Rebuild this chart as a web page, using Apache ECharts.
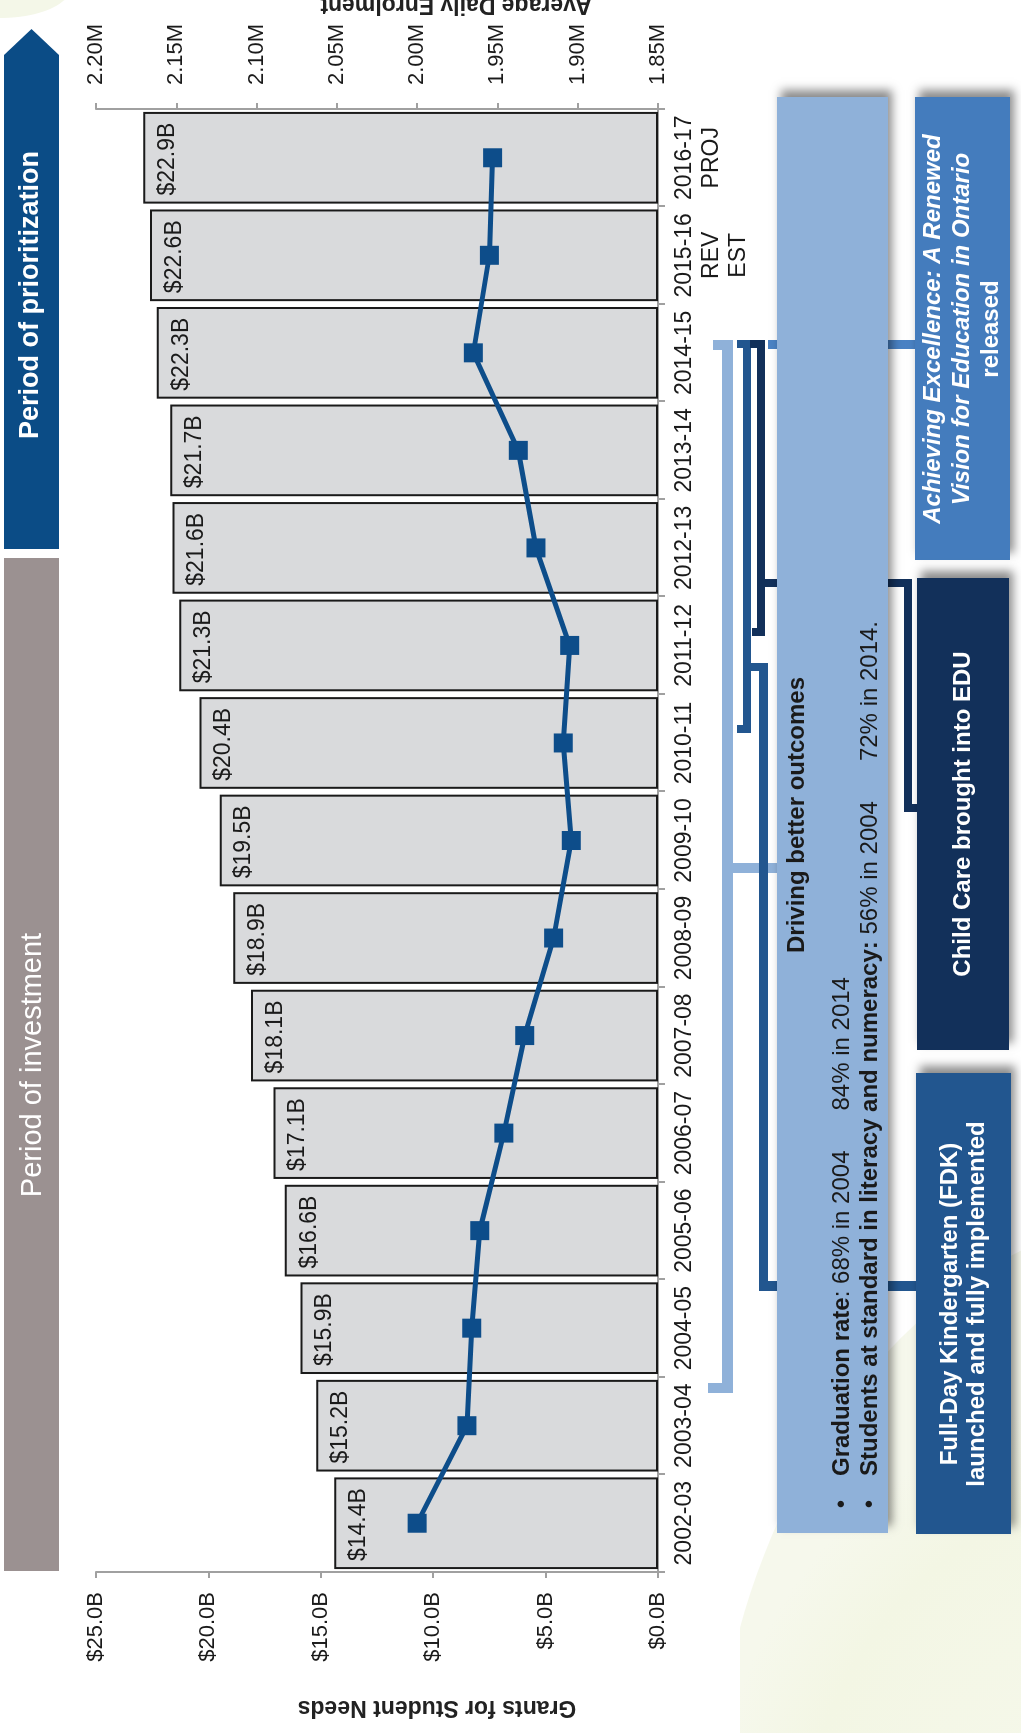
<!DOCTYPE html>
<html>
<head>
<meta charset="utf-8">
<script src="https://cdn.jsdelivr.net/npm/echarts@6/dist/echarts.min.js"></script>
<style>
  html, body { margin: 0; padding: 0; background: #fff; overflow: hidden; width: 1021px; height: 1733px; }
  /* the chart is laid out landscape and turned a quarter turn, like the printed page */
  #stage {
    position: absolute; left: 0; top: 0;
    width: 1733px; height: 1021px;
    transform-origin: 0 0;
    transform: translateY(1733px) rotate(-90deg);
  }
</style>
</head>
<body>
<div id="stage"></div>
<script>
// data
const years = ['2002-03', '2003-04', '2004-05', '2005-06', '2006-07', '2007-08', '2008-09', '2009-10',
  '2010-11', '2011-12', '2012-13', '2013-14', '2014-15', '2015-16', '2016-17'];
const yearNotes = ['', '', '', '', '', '', '', '', '', '', '', '', '', 'REV\nEST', 'PROJ'];
const gsnBillions = [14.4, 15.2, 15.9, 16.6, 17.1, 18.1, 18.9, 19.5, 20.4, 21.3, 21.6, 21.7, 22.3, 22.6, 22.9];
const enrolmentThousands = [2000, 1969, 1966, 1961, 1946, 1933, 1915, 1904, 1909, 1905, 1926, 1937, 1965, 1955, 1953];
const gsnTickLabels = ['$0.0B', '$5.0B', '$10.0B', '$15.0B', '$20.0B', '$25.0B'];
const enrolTickLabels = ['1.85M', '1.90M', '1.95M', '2.00M', '2.05M', '2.10M', '2.15M', '2.20M'];

const FONT = "'Liberation Sans', Arial, sans-serif";

function box(x, y, w, h, fill, z, shadow) {
    const style = { fill: fill };
    if (shadow) {
        style.shadowBlur = 9;
        style.shadowColor = 'rgba(0,0,0,0.45)';
        style.shadowOffsetX = 7;
        style.shadowOffsetY = 4;
    }
    return { type: 'rect', silent: true, z: z, shape: { x: x, y: y, width: w, height: h }, style: style };
}

function label(x, y, text, opts) {
    return Object.assign({
        type: 'text', silent: true, z: 20, x: x, y: y,
        style: Object.assign({
            text: text, x: 0, y: 0, align: 'center', verticalAlign: 'middle',
            fill: '#fff', fontFamily: FONT, fontSize: 24, fontWeight: 'bold', lineHeight: 28
        }, opts.style || {})
    }, opts.el || {});
}

const lightBlue = '#8fb1d9';
const midBlue = '#22568f';
const navy = '#12305a';
const brightBlue = '#447cbd';

const graphics = [
    // background swoosh and the white patch under the axis title
    {
        type: 'ellipse', silent: true, z: -20, shape: { cx: -120, cy: 1180, rx: 640, ry: 470 },
        style: {
            fill: new echarts.graphic.RadialGradient(0.5, 0.5, 0.5, [
                { offset: 0, color: '#f7f9ee' },
                { offset: 0.8, color: '#f3f6e4' },
                { offset: 1, color: '#f6f8ec' }
            ])
        }
    },
    { type: 'ellipse', silent: true, z: -20, shape: { cx: 1745, cy: 0, rx: 30, ry: 70 }, style: { fill: '#f4f7e8' } },
    box(0, 0, 111, 740, '#ffffff', -19),

    // period bands
    box(162, 4, 1013, 55, '#9b9191', 1),
    { type: 'polygon', silent: true, z: 1, shape: { points: [[1184, 4], [1678, 4], [1704, 31.5], [1678, 59], [1184, 59]] }, style: { fill: '#0b4c86' } },
    label(668, 33, 'Period of investment', { style: { fontFamily: "'Liberation Sans Narrow', " + FONT, fontSize: 29, fontWeight: 'normal' } }),
    label(1438, 31, 'Period of prioritization', { style: { fontSize: 27 } }),

    // brackets and connectors
    box(340, 722, 1053, 11, lightBlue, 5),
    box(1383, 713, 10, 20, lightBlue, 5),
    box(340, 708, 10, 25, lightBlue, 5),
    box(860, 722, 10, 56, lightBlue, 5),

    box(1000, 743, 393, 8, midBlue, 6),
    box(1385, 737, 8, 14, midBlue, 6),
    box(1000, 737, 8, 14, midBlue, 6),
    box(1062, 743, 8, 25, midBlue, 6),
    box(442, 759, 628, 9, midBlue, 6),
    box(442, 759, 10, 158, midBlue, 6),

    box(1097, 757, 296, 8, navy, 6),
    box(1385, 750, 8, 15, navy, 6),
    box(1097, 752, 8, 13, navy, 6),
    box(1146, 757, 8, 155, navy, 6),
    box(921, 904, 233, 8, navy, 6),
    box(921, 904, 8, 14, navy, 6),

    box(1384, 768, 9, 148, '#4a82c4', 6),

    // boxes
    box(200, 777, 1436, 111, lightBlue, 10, true),
    box(1173, 915, 463, 95, brightBlue, 10, true),
    box(683, 917, 472, 92, navy, 10, true),
    box(199, 916, 461, 95, midBlue, 10, true),

    label(918, 797, 'Driving better outcomes', { style: { fill: '#1a1a1a' } }),
    label(229, 842, '•', { style: { fill: '#1a1a1a', fontWeight: 'normal' } }),
    label(229, 870, '•', { style: { fill: '#1a1a1a', fontWeight: 'normal' } }),
    label(257, 842, '{b|Graduation rate}: 68% in 2004      84% in 2014', {
        style: { fill: '#1a1a1a', fontWeight: 'normal', align: 'left', rich: { b: { fontWeight: 'bold', fontSize: 24, fontFamily: FONT, fill: '#1a1a1a' } } }
    }),
    label(257, 870, '{b|Students at standard in literacy and numeracy:} 56% in 2004      72% in 2014.', {
        style: { fill: '#1a1a1a', fontWeight: 'normal', align: 'left', rich: { b: { fontWeight: 'bold', fontSize: 24, fontFamily: FONT, fill: '#1a1a1a' } } }
    }),

    label(1404, 962, '{i|Achieving Excellence: A Renewed}\n{i|Vision for Education in Ontario}\nreleased', {
        style: { lineHeight: 29, rich: { i: { fontStyle: 'italic', fontWeight: 'bold', fontSize: 24, fontFamily: FONT, fill: '#fff', lineHeight: 29 } } }
    }),
    label(919, 963, 'Child Care brought into EDU', {}),
    label(429, 964, 'Full-Day Kindergarten (FDK)\nlaunched and fully implemented', { style: { lineHeight: 27 } }),

    // axis titles
    label(26, 437, 'Grants for Student Needs', { el: { rotation: Math.PI / 2 }, style: { fill: '#222', fontSize: 23 } }),
    label(1729, 456, 'Average Daily Enrolment', { el: { rotation: Math.PI / 2 }, style: { fill: '#222', fontSize: 23 } })
];

const axisGray = '#a0a0a0';

const option = {
    animation: false,
    backgroundColor: 'transparent',
    textStyle: { fontFamily: FONT },
    grid: { left: 161, right: 109, top: 96, bottom: 363, containLabel: false },
    xAxis: {
        type: 'category',
        data: years,
        axisLine: { lineStyle: { color: axisGray, width: 2 } },
        axisTick: { show: true, length: 7, lineStyle: { color: axisGray, width: 2 } },
        axisLabel: {
            interval: 0, margin: 13, color: '#1a1a1a', fontSize: 23, lineHeight: 27, align: 'center',
            formatter: (v, i) => yearNotes[i] ? v + '\n' + yearNotes[i] : v
        }
    },
    yAxis: [
        {
            type: 'value', position: 'left', min: 0, max: 25, interval: 5,
            splitLine: { show: false },
            axisLine: { show: true, lineStyle: { color: axisGray, width: 2 } },
            axisTick: { show: true, length: 6, lineStyle: { color: axisGray, width: 2 } },
            axisLabel: { margin: 20, color: '#1a1a1a', fontSize: 22, formatter: (v, i) => gsnTickLabels[i] }
        },
        {
            type: 'value', position: 'right', min: 1850, max: 2200, interval: 50,
            splitLine: { show: false },
            axisLine: { show: true, lineStyle: { color: axisGray, width: 2 } },
            axisTick: { show: true, length: 6, lineStyle: { color: axisGray, width: 2 } },
            axisLabel: { margin: 24, color: '#1a1a1a', fontSize: 22, formatter: (v, i) => enrolTickLabels[i] }
        }
    ],
    series: [
        {
            name: 'Grants for Student Needs',
            type: 'bar',
            data: gsnBillions,
            barCategoryGap: '6%',
            itemStyle: { color: '#d9dadc', borderColor: '#1a1a1a', borderWidth: 2 },
            label: {
                show: true, position: [8, 13], align: 'left', verticalAlign: 'top',
                color: '#1a1a1a', fontSize: 23, fontFamily: FONT,
                formatter: p => '$' + p.value.toFixed(1) + 'B'
            },
            z: 2
        },
        {
            name: 'Average Daily Enrolment',
            type: 'line',
            yAxisIndex: 1,
            data: enrolmentThousands,
            symbol: 'rect',
            symbolSize: 19,
            lineStyle: { color: '#0d4d8a', width: 5 },
            itemStyle: { color: '#0d4d8a' },
            z: 5
        }
    ],
    graphic: graphics
};

const chart = echarts.init(document.getElementById('stage'), null, { renderer: 'canvas' });
chart.setOption(option);
</script>
</body>
</html>
